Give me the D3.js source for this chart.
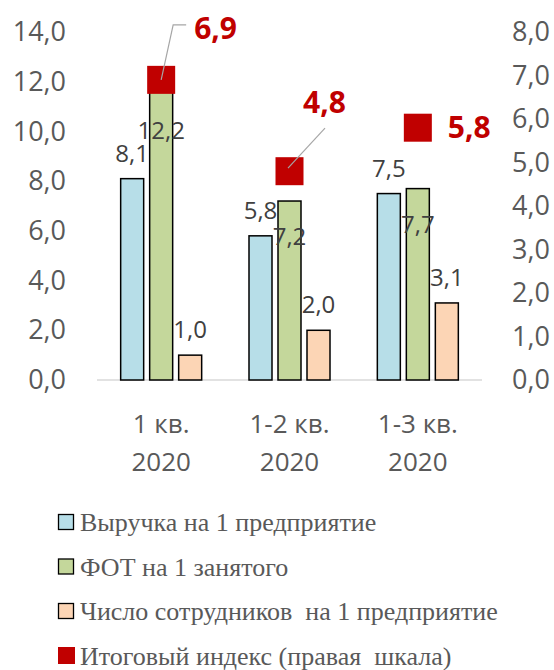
<!DOCTYPE html>
<html><head><meta charset="utf-8">
<script src="https://cdn.jsdelivr.net/npm/d3@7"></script>
<style>body{margin:0;background:#fff}</style>
</head><body>
<svg id="c" width="554" height="670"></svg>
<script>
const categories = ["1 кв.|2020", "1-2 кв.|2020", "1-3 кв.|2020"];
const seriesNames = ["Выручка на 1 предприятие", "ФОТ на 1 занятого", "Число сотрудников  на 1 предприятие"];
const revenue = [8.1, 5.8, 7.5];
const payroll = [12.2, 7.2, 7.7];
const staff = [1.0, 2.0, 3.1];
const indexName = "Итоговый индекс (правая  шкала)";
const finalIndex = [6.9, 4.8, 5.8];
const leftTicks = [0, 2, 4, 6, 8, 10, 12, 14];
const rightTicks = [0, 1, 2, 3, 4, 5, 6, 7, 8];

const colors = ["#B7DEE8", "#C4D79B", "#FCD5B5"];
const red = "#C00000";
const seriesVals = [revenue, payroll, staff];

const svg = d3.select("#c");
const fmt = v => d3.format(".1f")(v).replace(".", ",");
const plotTop = 32, plotBottom = 380;
const yL = d3.scaleLinear().domain([0, 14]).range([plotBottom, plotTop]);
const yR = d3.scaleLinear().domain([0, 8]).range([plotBottom, plotTop]);
const x0 = d3.scaleBand().domain(categories).range([97, 482]);
const x1 = d3.scaleBand().domain([0, 1, 2]).range([-40.5, 40.5]).paddingInner(6 / 29);

// axes
const axL = svg.append("g").attr("transform", "translate(66,0)")
  .call(d3.axisLeft(yL).tickValues(leftTicks).tickFormat(fmt).tickSize(0).tickPadding(0));
const axR = svg.append("g").attr("transform", "translate(512,0)")
  .call(d3.axisRight(yR).tickValues(rightTicks).tickFormat(fmt).tickSize(0).tickPadding(0));
[axL, axR].forEach(a => {
  a.select(".domain").remove();
  a.selectAll("text").attr("fill", "#595959").style("font-family", "Open Sans").style("font-size", "27px");
});

// baseline
svg.append("line").attr("x1", 97).attr("x2", 482).attr("y1", yL(0)).attr("y2", yL(0))
  .attr("stroke", "#D9D9D9").attr("stroke-width", 1.5);

// category labels
const xa = svg.append("g").attr("transform", `translate(0,${plotBottom})`)
  .call(d3.axisBottom(x0).tickSize(0).tickFormat(() => ""));
xa.select(".domain").remove();
categories.forEach(c => {
  const [a, b] = c.split("|");
  const t = svg.append("text").attr("x", x0(c) + x0.bandwidth() / 2).attr("text-anchor", "middle")
    .attr("fill", "#595959").style("font-family", "Open Sans").style("font-size", "26px");
  t.append("tspan").attr("x", x0(c) + x0.bandwidth() / 2).attr("y", 433).text(a);
  t.append("tspan").attr("x", x0(c) + x0.bandwidth() / 2).attr("y", 471).text(b);
});

const cx = (i) => x0(categories[i]) + x0.bandwidth() / 2;
const markerSize = 28;

// bars & labels, series by series (later bars overlap earlier labels)
seriesVals.forEach((vals, s) => {
  const g = svg.append("g");
  g.selectAll("rect").data(vals).enter().append("rect")
    .attr("x", (d, i) => cx(i) + x1(s))
    .attr("width", x1.bandwidth())
    .attr("y", d => yL(d))
    .attr("height", d => yL(0) - yL(d))
    .attr("fill", colors[s]).attr("stroke", "#000").attr("stroke-width", 1.5);
  g.selectAll("text").data(vals).enter().append("text")
    .attr("x", (d, i) => cx(i) + x1(s) + x1.bandwidth() / 2)
    .attr("y", (d, i) => {
      if (s === 1) {
        const markerBottom = yR(finalIndex[i]) + markerSize / 2;
        return Math.max(yL(d) + 44, markerBottom + 45);
      }
      return yL(d) - 17;
    })
    .attr("text-anchor", "middle").attr("fill", "#404040")
    .style("font-family", "Open Sans").style("font-size", "24px")
    .text(fmt);
});

// index markers
const labelLayout = [
  {dx: 33, dy: -51, leader: [[0, 0], [12, -55], [25, -55]]},
  {dx: 13.5, dy: -69, leader: [[-1.5, -3], [35.5, -43]]},
  {dx: 30, dy: 0, leader: null}
];
const mg = svg.append("g");
finalIndex.forEach((v, i) => {
  const x = cx(i), y = yR(v), L = labelLayout[i];
  mg.append("rect").attr("x", x - markerSize / 2).attr("y", y - markerSize / 2)
    .attr("width", markerSize).attr("height", markerSize).attr("fill", red);
  if (L.leader) {
    mg.append("path").attr("d", d3.line()(L.leader.map(p => [x + p[0], y + p[1]])))
      .attr("fill", "none").attr("stroke", "#A6A6A6").attr("stroke-width", 1.2);
  }
  mg.append("text").attr("x", x + L.dx).attr("y", y + L.dy).attr("dy", "0.35em")
    .attr("fill", red).style("font-family", "Open Sans").style("font-weight", "bold")
    .style("font-size", "30px").text(fmt(v));
});

// legend
const legendItems = seriesNames.map((n, i) => ({name: n, color: colors[i], stroke: true}))
  .concat([{name: indexName, color: red, stroke: false}]);
const lg = svg.append("g");
legendItems.forEach((it, i) => {
  const yc = 522 + i * 44.5;
  lg.append("rect").attr("x", it.stroke ? 58.5 : 58).attr("y", yc - (it.stroke ? 7.5 : 8.5))
    .attr("width", it.stroke ? 15 : 17).attr("height", it.stroke ? 15 : 17)
    .attr("fill", it.color).attr("stroke", it.stroke ? "#000" : "none").attr("stroke-width", 1.3);
  lg.append("text").attr("x", 80).attr("y", yc).attr("dy", "0.35em")
    .attr("fill", "#595959").style("font-family", "Liberation Serif").style("font-size", "26px")
    .style("white-space", "pre").text(it.name);
});
</script>
</body></html>
